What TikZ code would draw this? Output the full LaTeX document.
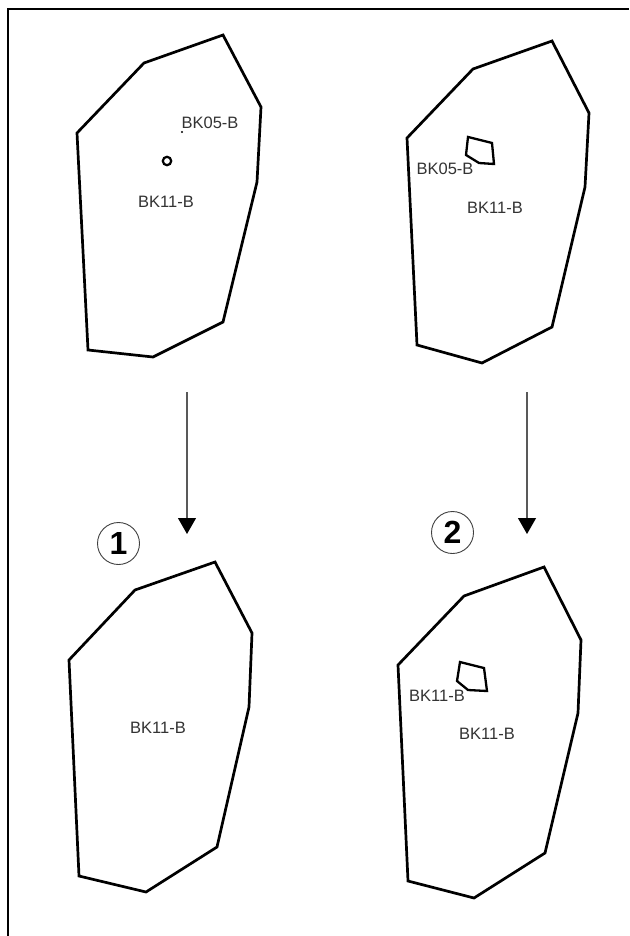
\documentclass[tikz,border=0pt]{standalone}
\usepackage{fontspec}
\setmainfont{Liberation Sans}
\usetikzlibrary{arrows.meta}
\begin{document}
\begin{tikzpicture}[x=1pt,y=-1pt,
  outline/.style={line width=2.7pt, line join=miter, black},
  inner/.style={line width=2.3pt, line join=miter, black},
  lbl/.style={font=\fontsize{16.5}{17}\selectfont, text=black!80, inner sep=0pt},
  flowarrow/.style={line width=1.1pt, draw=black!65, -{Triangle[length=16pt,width=18pt,color=black]}},
  circnum/.style={circle, draw=black!75, line width=0.9pt, minimum size=42pt, inner sep=0pt, font=\fontsize{32}{33}\selectfont\bfseries}
]
\useasboundingbox (0,0) rectangle (629,936);
\fill[white] (0,0) rectangle (629,936);
% frame (top and left edges)
\draw[line width=1.2pt] (8,936) -- (8,9) -- (629,9);

% top-left polygon
\draw[outline] (223,35) -- (261,107) -- (257,182) -- (223,322) -- (153,357) -- (88,350) -- (77,133) -- (144,63) -- cycle;
\draw[line width=2.2pt] (167,161) circle (4.2);
\fill (182,132) circle (1.1);
\node[lbl] (t1a) at (210,123) {BK05-B};
\node[lbl] (t1b) at (166,202) {BK11-B};

% top-right polygon
\draw[outline] (552,41) -- (589,113) -- (585,187) -- (552,327) -- (482,363) -- (417,345) -- (407,138) -- (473,69) -- cycle;
\draw[inner] (468,137) -- (492,143) -- (494,164) -- (479,163) -- (466,155) -- cycle;
\node[lbl] (t2a) at (445,169) {BK05-B};
\node[lbl] (t2b) at (495,208) {BK11-B};

% bottom-left polygon
\draw[outline] (215,562) -- (252,633) -- (249,707) -- (217,847) -- (146,892) -- (79,876) -- (69,660) -- (135,590) -- cycle;
\node[lbl] (t3) at (158,728) {BK11-B};

% bottom-right polygon
\draw[outline] (544,567) -- (581,640) -- (578,713) -- (545,853) -- (474,898) -- (408,881) -- (398,665) -- (464,596) -- cycle;
\draw[inner] (460,662) -- (484,668) -- (487,691) -- (468,690) -- (457,681) -- cycle;
\node[lbl] (t4a) at (437,696) {BK11-B};
\node[lbl] (t4b) at (487,734) {BK11-B};

% arrows
\coordinate (a1s) at (187,392);
\coordinate (a1e) at (187,534);
\coordinate (a2s) at (527,392);
\coordinate (a2e) at (527,534);
\draw[flowarrow] (a1s) -- (a1e);
\draw[flowarrow] (a2s) -- (a2e);

% circled numbers
\node[circnum] (n1) at (118.5,543.5) {1};
\node[circnum] (n2) at (452.5,532.5) {2};
\end{tikzpicture}
\end{document}
